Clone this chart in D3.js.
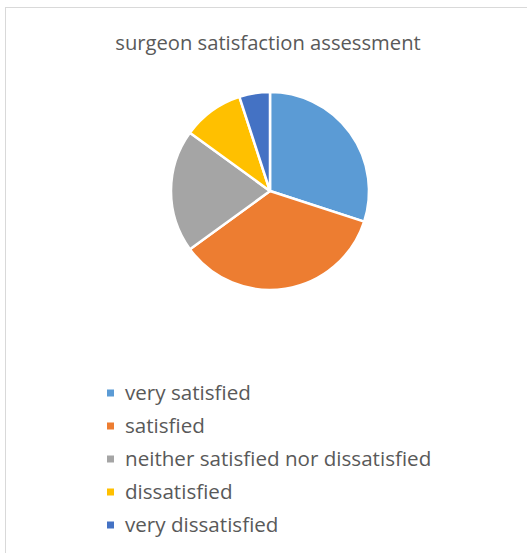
<!DOCTYPE html>
<html>
<head>
<meta charset="utf-8">
<script src="https://cdn.jsdelivr.net/npm/d3@7"></script>
<style>
  body { margin: 0; background: #fff; }
  text { font-family: "Open Sans", "Noto Sans", sans-serif; fill: #595959; }
</style>
</head>
<body>
<svg id="chart" width="527" height="553"></svg>
<script>
const title = "surgeon satisfaction assessment";
const categories = ["very satisfied", "satisfied", "neither satisfied nor dissatisfied", "dissatisfied", "very dissatisfied"];
const values = [30, 35, 20, 10, 5];
const colors = ["#5B9BD5", "#ED7D31", "#A5A5A5", "#FFC000", "#4472C4"];

const svg = d3.select("#chart");
const width = +svg.attr("width");
const height = +svg.attr("height");

// chart frame (only top and left edges are in view)
svg.append("rect")
    .attr("x", 5.5).attr("y", 7.5)
    .attr("width", width + 10).attr("height", height + 10)
    .attr("fill", "#fff")
    .attr("stroke", "#d9d9d9")
    .attr("stroke-width", 1);

svg.append("text")
    .attr("x", 268).attr("y", 50)
    .attr("text-anchor", "middle")
    .attr("font-size", 20.2)
    .text(title);

const data = categories.map((c, i) => ({ name: c, value: values[i], color: colors[i] }));

const pie = d3.pie().value(d => d.value).sort(null);
const arc = d3.arc().innerRadius(0).outerRadius(99);

const g = svg.append("g").attr("transform", "translate(270,191)");
g.selectAll("path")
    .data(pie(data))
    .enter().append("path")
    .attr("d", arc)
    .attr("fill", d => d.data.color)
    .attr("stroke", "#fff")
    .attr("stroke-width", 2.5)
    .attr("stroke-linejoin", "round");

const legend = svg.append("g");
const rowY = d3.scalePoint().domain(categories).range([393, 525]);
const items = legend.selectAll("g")
    .data(data)
    .enter().append("g")
    .attr("transform", d => `translate(107,${rowY(d.name)})`);
items.append("rect")
    .attr("x", 0).attr("y", -3.5)
    .attr("width", 7).attr("height", 7)
    .attr("fill", d => d.color);
items.append("text")
    .attr("x", 18).attr("y", 0)
    .attr("dy", "0.35em")
    .attr("font-size", 20.6)
    .text(d => d.name);
</script>
</body>
</html>
